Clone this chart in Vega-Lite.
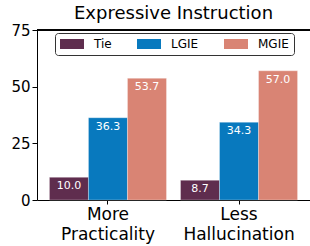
{
  "$schema": "https://vega.github.io/schema/vega-lite/v6.json",
  "width": 273,
  "height": 170,
  "autosize": {"type": "none"},
  "padding": {"left": 37, "top": 30, "right": 0, "bottom": 46},
  "background": "white",
  "title": {"text": "Expressive Instruction", "font": "DejaVu Sans", "fontSize": 18, "fontWeight": "normal", "color": "black", "anchor": "middle", "offset": 0},
  "config": {
    "view": {"stroke": null},
    "font": "DejaVu Sans",
    "axis": {"labelFont": "DejaVu Sans", "labelColor": "black", "domainColor": "black", "tickColor": "black", "grid": false, "title": null}
  },
  "data": {"values": [
    {"cat": "More Practicality", "series": "Tie", "value": 10.0},
    {"cat": "More Practicality", "series": "LGIE", "value": 36.3},
    {"cat": "More Practicality", "series": "MGIE", "value": 53.7},
    {"cat": "Less Hallucination", "series": "Tie", "value": 8.7},
    {"cat": "Less Hallucination", "series": "LGIE", "value": 34.3},
    {"cat": "Less Hallucination", "series": "MGIE", "value": 57.0}
  ]},
  "encoding": {
    "x": {"field": "cat", "type": "nominal", "sort": ["More Practicality", "Less Hallucination"],
      "scale": {"paddingInner": 0.107, "paddingOuter": 0.095},
      "axis": {"labelAngle": 0, "labelFontSize": 17, "labelExpr": "split(datum.label, ' ')", "labelLineHeight": 20, "tickSize": 4, "labelPadding": 2, "domainWidth": 1}},
    "xOffset": {"field": "series", "type": "nominal", "sort": ["Tie", "LGIE", "MGIE"], "scale": {"paddingInner": 0, "paddingOuter": 0}},
    "y": {"field": "value", "type": "quantitative", "scale": {"domain": [0, 75], "nice": false},
      "axis": {"values": [0, 25, 50, 75], "labelFontSize": 15, "tickSize": 5, "labelPadding": 2, "domainWidth": 1}}
  },
  "layer": [
    {
      "mark": {"type": "bar", "stroke": "white", "strokeOpacity": 0.3, "strokeWidth": 1},
      "encoding": {
        "color": {"field": "series", "type": "nominal", "sort": ["Tie", "LGIE", "MGIE"],
          "scale": {"domain": ["Tie", "LGIE", "MGIE"], "range": ["#5f2d4e", "#0879be", "#d98474"]},
          "legend": {"title": null, "orient": "none", "legendX": 18, "legendY": 3, "direction": "horizontal",
            "symbolType": "M-1,-0.83H3V0.83H-1Z", "symbolSize": 144, "symbolStrokeWidth": 0, "symbolOpacity": 1,
            "labelOffset": 22, "columnPadding": 25, "labelFontSize": 12, "labelFont": "DejaVu Sans", "labelColor": "black",
            "padding": 5, "strokeColor": "#333", "cornerRadius": 3, "fillColor": "white"}}
      }
    },
    {
      "mark": {"type": "text", "color": "white", "baseline": "top", "dy": 3, "fontSize": 11},
      "encoding": {"text": {"field": "value", "type": "quantitative", "format": ".1f"}}
    },
    {
      "mark": {"type": "rule", "color": "black", "strokeWidth": 1},
      "encoding": {"y": {"datum": 75}, "x": null, "xOffset": null}
    }
  ]
}
